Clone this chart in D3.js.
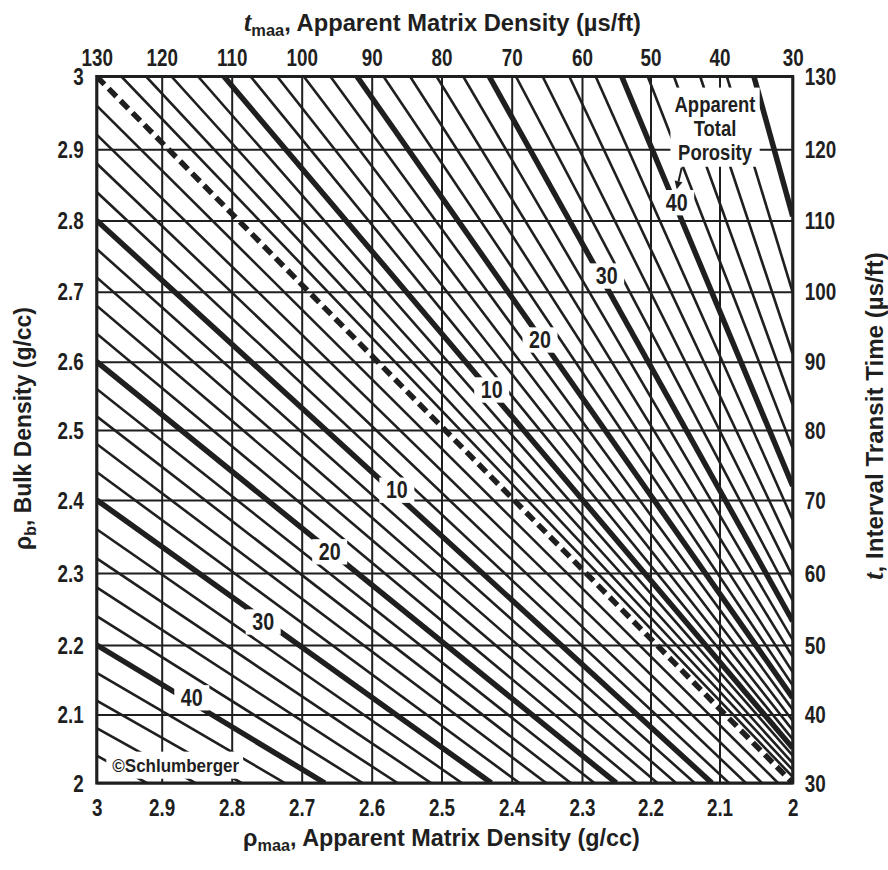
<!DOCTYPE html>
<html><head><meta charset="utf-8">
<script src="https://cdn.jsdelivr.net/npm/d3@7/dist/d3.min.js"></script>
<style>
body{margin:0;background:#fff;}
svg text{font-family:"Liberation Sans",Arial,sans-serif;font-weight:bold;fill:#1f1f1f;}
</style></head><body>
<svg id="chart" width="888" height="870"></svg>
<script>
// ---------------- data ----------------
const rhomaaTicks = [3, 2.9, 2.8, 2.7, 2.6, 2.5, 2.4, 2.3, 2.2, 2.1, 2];
const rhomaaTickLabels = ["3","2.9","2.8","2.7","2.6","2.5","2.4","2.3","2.2","2.1","2"];
const rhobTicks = [3, 2.9, 2.8, 2.7, 2.6, 2.5, 2.4, 2.3, 2.2, 2.1, 2];
const rhobTickLabels = ["3","2.9","2.8","2.7","2.6","2.5","2.4","2.3","2.2","2.1","2"];
const tmaaTicks = [130, 120, 110, 100, 90, 80, 70, 60, 50, 40, 30];
const tTicks = [130, 120, 110, 100, 90, 80, 70, 60, 50, 40, 30];

// density family (lower-left): porosity %, rho_b where line meets rho_maa = 3, rho_maa where line meets rho_b = 2
const densityPorosity = [0,2,4,6,8,10,12,14,16,18,20,22,24,26,28,30,32,34,36,38,40,42,44,46,48];
const densityLeftRhob = [3.00,2.96,2.92,2.88,2.84,2.80,2.76,2.72,2.68,2.64,2.60,2.56,2.52,2.48,2.44,2.40,2.36,2.32,2.28,2.24,2.20,2.16,2.12,2.08,2.04];
const densityBottomRhomaa = [2.000,2.020,2.042,2.064,2.087,2.111,2.136,2.163,2.190,2.220,2.250,2.282,2.316,2.351,2.389,2.429,2.471,2.515,2.563,2.613,2.667,2.724,2.786,2.852,2.923];

// sonic family (upper-right): porosity %, t_maa where line meets t = 130, t where line meets t_maa = 30
const sonicPorosity = [2,4,6,8,10,12,14,16,18,20,22,24,26,28,30,32,34,36,38,40,42,44,46,48,50];
const sonicTopTmaa = [126.2,122.4,118.6,114.8,111.1,107.3,103.5,99.7,95.9,92.1,88.3,84.5,80.7,76.9,73.2,69.4,65.6,61.8,58.0,54.2,50.4,46.6,42.8,39.0,35.3];
const sonicRightT = [30.9,31.9,32.9,34.0,35.1,36.4,37.7,39.1,40.7,42.4,44.2,46.1,48.3,50.7,53.3,56.2,59.5,63.1,67.3,72.0,77.4,83.7,91.1,99.9,110.6];

// porosity labels on the thick lines
const densityLabelText = ["10","20","30","40"];
const densityLabelRhomaa = [2.564, 2.660, 2.755, 2.857];
const densityLabelRhob = [2.414, 2.329, 2.232, 2.124];
const sonicLabelText = ["10","20","30","40"];
const sonicLabelTmaa = [72.85, 65.97, 56.4, 46.2];
const sonicLabelT = [85.86, 93.1, 102.2, 112.5];

const noteLines = ["Apparent","Total","Porosity"];
const noteAnchor = [40.65, 122.9];        // t_maa, t (centre of middle line)
const arrowFrom = [45.48, 117.4];         // t_maa, t
const arrowTo = [46.2, 114.4];
const copyrightText = "\u00A9Schlumberger";
const copyrightAt = [2.880, 2.026];       // rho_maa, rho_b

// ---------------- layout ----------------
const NARROW = 0.82;
const svg = d3.select("#chart");
const gridX = [96.7,161.7,231.7,301.7,371.7,441.5,511.7,582,650.5,719.5,792.7];
const gridY = [76.5,149.3,220.5,291.7,361.7,430,500,573,645,714.5,783];
const x = d3.scaleLinear().domain(rhomaaTicks).range(gridX);
const xt = d3.scaleLinear().domain(tmaaTicks).range(gridX);
const y = d3.scaleLinear().domain(rhobTicks).range(gridY);
const yt = d3.scaleLinear().domain(tTicks).range(gridY);
const L = x(3), R = x(2), T = y(3), B = y(2);
const ink = "#1f1f1f";

svg.append("rect").attr("width",888).attr("height",870).attr("fill","#fff");
svg.append("defs").append("clipPath").attr("id","plot").append("rect")
  .attr("x",L).attr("y",T).attr("width",R-L).attr("height",B-T);

// grid
const grid = svg.append("g");
grid.append("g").attr("transform",`translate(0,${B})`)
  .call(d3.axisBottom(x).tickValues(rhomaaTicks).tickSize(-(B-T)).tickFormat(""))
  .call(g=>g.select(".domain").remove())
  .call(g=>g.selectAll("line").attr("stroke",ink).attr("stroke-width",2));
grid.append("g").attr("transform",`translate(${L},0)`)
  .call(d3.axisLeft(y).tickValues(rhobTicks).tickSize(-(R-L)).tickFormat(""))
  .call(g=>g.select(".domain").remove())
  .call(g=>g.selectAll("line").attr("stroke",ink).attr("stroke-width",2));

// porosity lines
const lines = svg.append("g").attr("clip-path","url(#plot)");
densityPorosity.forEach((p,i)=>{
  const ln = lines.append("line")
    .attr("x1",x(3)).attr("y1",y(densityLeftRhob[i]))
    .attr("x2",x(densityBottomRhomaa[i])).attr("y2",y(2))
    .attr("stroke",ink)
    .attr("stroke-width", p%10===0 ? 5.5 : 2.6);
  if(p===0) ln.attr("stroke-dasharray","11 6");
});
sonicPorosity.forEach((p,i)=>{
  lines.append("line")
    .attr("x1",xt(sonicTopTmaa[i])).attr("y1",yt(130))
    .attr("x2",xt(30)).attr("y2",yt(sonicRightT[i]))
    .attr("stroke",ink)
    .attr("stroke-width", p%10===0 ? 5.5 : 2.6);
});

// labels with white boxes
function boxedLabel(cx, cy, txt, size){
  const g = svg.append("g").attr("transform",`translate(${cx},${cy}) scale(${NARROW},1)`);
  const r = g.append("rect").attr("fill","#fff");
  const t = g.append("text").attr("x",0).attr("y",0).attr("text-anchor","middle")
    .attr("dominant-baseline","central").attr("font-size",size).text(txt);
  const bb = t.node().getBBox();
  r.attr("x",bb.x-8).attr("y",bb.y+1).attr("width",bb.width+16).attr("height",bb.height-2);
}
densityLabelText.forEach((s,i)=>boxedLabel(x(densityLabelRhomaa[i]), y(densityLabelRhob[i]), s, 24));
sonicLabelText.forEach((s,i)=>boxedLabel(xt(sonicLabelTmaa[i]), yt(sonicLabelT[i]), s, 24));

// note "Apparent Total Porosity"
{
  const cx = xt(noteAnchor[0]), cy = yt(noteAnchor[1]);
  const g0 = svg.append("g");
  const g = g0.append("g").attr("transform",`translate(${cx},${cy}) scale(${NARROW},1)`);
  const r = g.append("rect").attr("fill","#fff");
  const tx = g.append("text").attr("text-anchor","middle").attr("font-size",22.5);
  noteLines.forEach((s,i)=>{
    tx.append("tspan").attr("x",0).attr("y",(i-1)*24).attr("dominant-baseline","central").text(s);
  });
  const bb = tx.node().getBBox();
  r.attr("x",bb.x-5).attr("y",bb.y-4).attr("width",bb.width+10).attr("height",bb.height+6);
  // arrow
  const ax1 = xt(arrowFrom[0]), ay1 = yt(arrowFrom[1]), ax2 = xt(arrowTo[0]), ay2 = yt(arrowTo[1]);
  const ang = Math.atan2(ay2-ay1, ax2-ax1);
  const hl = 8, hw = 4;
  const bx = ax2 - hl*Math.cos(ang), by = ay2 - hl*Math.sin(ang);
  g0.append("line").attr("x1",ax1).attr("y1",ay1).attr("x2",bx).attr("y2",by)
    .attr("stroke",ink).attr("stroke-width",2);
  g0.append("path").attr("fill",ink)
    .attr("d",`M${ax2},${ay2} L${bx - hw*Math.sin(ang)},${by + hw*Math.cos(ang)} L${bx + hw*Math.sin(ang)},${by - hw*Math.cos(ang)} Z`);
}

// copyright
{
  const g = svg.append("g").attr("transform",`translate(${x(copyrightAt[0])},${y(copyrightAt[1])})`);
  const r = g.append("rect").attr("fill","#fff");
  const t = g.append("text").attr("x",0).attr("y",0)
    .attr("text-anchor","middle").attr("dominant-baseline","central").attr("font-size",19)
    .style("font-weight","600").text(copyrightText);
  const w = t.node().getComputedTextLength();
  const sx = 127 / w;
  t.attr("transform",`scale(${sx},1)`);
  const bb = t.node().getBBox();
  r.attr("x",bb.x*sx-6).attr("y",bb.y-3).attr("width",bb.width*sx+10).attr("height",bb.height+6);
}

// frame
svg.append("rect").attr("x",L).attr("y",T).attr("width",R-L).attr("height",B-T)
  .attr("fill","none").attr("stroke",ink).attr("stroke-width",3);

// axes tick labels
function styleAxis(g){ g.select(".domain").remove(); g.selectAll(".tick line").remove();
  g.selectAll("text").attr("font-size",23).attr("fill",ink).attr("font-family",null); }
svg.append("g").attr("transform",`translate(0,${B})`)
  .call(d3.axisBottom(x).tickValues(rhomaaTicks).tickSize(0).tickFormat((d,i)=>rhomaaTickLabels[i]))
  .call(styleAxis).call(g=>g.selectAll("text").attr("y",33).attr("dy",null).attr("transform",`scale(${NARROW},1)`));
svg.append("g").attr("transform",`translate(0,${T})`)
  .call(d3.axisTop(xt).tickValues(tmaaTicks).tickSize(0).tickFormat(d3.format("d")))
  .call(styleAxis).call(g=>g.selectAll("text").attr("y",-11).attr("dy",null).attr("transform",`scale(${NARROW},1)`));
svg.append("g").attr("transform",`translate(${L},0)`)
  .call(d3.axisLeft(y).tickValues(rhobTicks).tickSize(0).tickFormat((d,i)=>rhobTickLabels[i]))
  .call(styleAxis).call(g=>g.selectAll("text").attr("x",-13/NARROW).attr("dy","0.36em").attr("transform",`scale(${NARROW},1)`));
svg.append("g").attr("transform",`translate(${R},0)`)
  .call(d3.axisRight(yt).tickValues(tTicks).tickSize(0).tickFormat(d3.format("d")))
  .call(styleAxis).call(g=>g.selectAll("text").attr("x",12/NARROW).attr("dy","0.36em").attr("transform",`scale(${NARROW},1)`));

// titles
function title(cx, cy, rot, parts, targetW){
  const g = svg.append("g");
  const t = g.append("text").attr("text-anchor","middle").attr("font-size",24.5);
  parts.forEach(p=>{
    const s = t.append("tspan").text(p.s);
    if(p.it) s.attr("font-style","italic").attr("font-family","Liberation Serif, serif").attr("font-size",27);
    if(p.sub) s.attr("font-size",17).attr("dy",5);
    if(p.up) s.attr("dy",-5);
  });
  const w = t.node().getComputedTextLength();
  const sx = targetW / w;
  g.attr("transform",`translate(${cx},${cy}) rotate(${rot}) scale(${sx},1)`);
}
title(442.5, 31, 0, [{s:"t",it:true},{s:"maa",sub:true},{s:", Apparent Matrix Density (\u00B5s/ft)",up:true}], 397);
title(441.5, 846, 0, [{s:"\u03C1"},{s:"maa",sub:true},{s:", Apparent Matrix Density (g/cc)",up:true}], 397);
title(31, 428.5, -90, [{s:"\u03C1"},{s:"b",sub:true},{s:", Bulk Density (g/cc)",up:true}], 243);
title(883, 416, -90, [{s:"t",it:true},{s:", Interval Transit Time (\u00B5s/ft)"}], 328);
</script>
</body></html>
